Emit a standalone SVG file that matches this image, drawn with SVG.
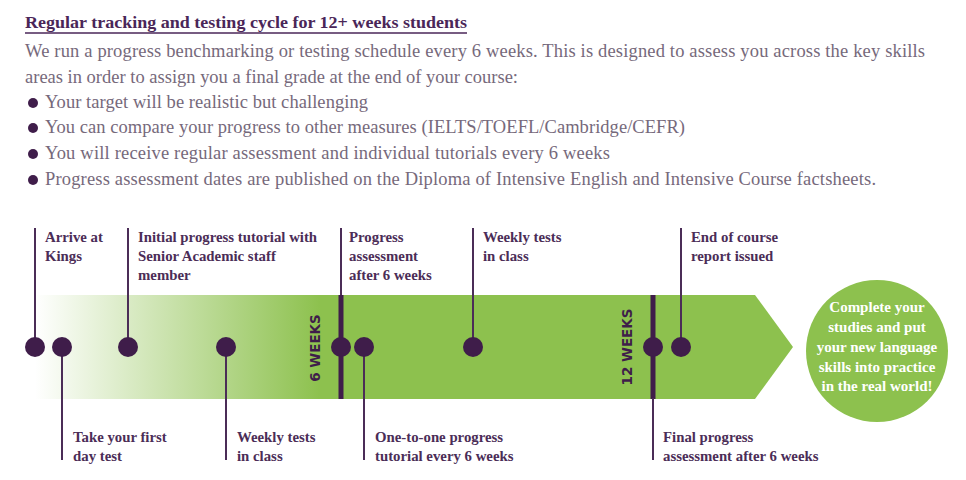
<svg xmlns="http://www.w3.org/2000/svg" width="966" height="480" viewBox="0 0 966 480">
<style>
.title{font-family:"Liberation Serif",serif;font-weight:bold;font-size:16.5px;fill:#4a2658}
.body{font-family:"Liberation Serif",serif;font-size:18.5px;fill:#76697b}
.lbl{font-family:"Liberation Serif",serif;font-weight:bold;font-size:14.8px;fill:#4b2d57}
.wk{font-family:"DejaVu Sans",sans-serif;font-weight:bold;font-size:13.5px;fill:#3f1d4a}
.ctext{font-family:"Liberation Serif",serif;font-weight:bold;font-size:15px;fill:#ffffff}
.thin{stroke:#4b2d57;stroke-width:2;fill:none}
.thick{stroke:#3f1d4a;stroke-width:5;fill:none}
.dot{fill:#3f1d4a}
.bul{fill:#3f1d4a}
</style>
<defs>
<linearGradient id="g" x1="35" y1="0" x2="320" y2="0" gradientUnits="userSpaceOnUse">
<stop offset="0" stop-color="#8dc14e" stop-opacity="0"/>
<stop offset="1" stop-color="#8dc14e" stop-opacity="1"/>
</linearGradient>
</defs>
<rect width="966" height="480" fill="#ffffff"/>
<g id="header">
<text class="title" x="25" y="28" textLength="442" lengthAdjust="spacingAndGlyphs">Regular tracking and testing cycle for 12+ weeks students</text>
<line x1="25" y1="33" x2="467" y2="33" stroke="#4a2658" stroke-width="1.5"/>
<text class="body" x="25" y="57" textLength="900" lengthAdjust="spacing">We run a progress benchmarking or testing schedule every 6 weeks. This is designed to assess you across the key skills</text>
<text class="body" x="25" y="83" textLength="493" lengthAdjust="spacing">areas in order to assign you a final grade at the end of your course:</text>
<circle class="bul" cx="33" cy="103" r="5"/>
<text class="body" x="45" y="108" textLength="323" lengthAdjust="spacing">Your target will be realistic but challenging</text>
<circle class="bul" cx="33" cy="128" r="5"/>
<text class="body" x="45" y="133" textLength="640" lengthAdjust="spacing">You can compare your progress to other measures (IELTS/TOEFL/Cambridge/CEFR)</text>
<circle class="bul" cx="33" cy="154" r="5"/>
<text class="body" x="45" y="159" textLength="565" lengthAdjust="spacing">You will receive regular assessment and individual tutorials every 6 weeks</text>
<circle class="bul" cx="33" cy="180" r="5"/>
<text class="body" x="45" y="185" textLength="831" lengthAdjust="spacing">Progress assessment dates are published on the Diploma of Intensive English and Intensive Course factsheets.</text>
</g>
<g id="band">
<rect x="35" y="295" width="300" height="104" fill="url(#g)"/>
<polygon points="334,295 755,295 793,347 755,399 334,399" fill="#8dc14e"/>
<text class="wk" transform="translate(320,348) rotate(-90)" text-anchor="middle">6 WEEKS</text>
<text class="wk" transform="translate(632,347) rotate(-90)" text-anchor="middle">12 WEEKS</text>
</g>
<g id="connectors">
<line class="thin" x1="35" y1="228" x2="35" y2="347"/>
<line class="thin" x1="62" y1="347" x2="62" y2="460"/>
<line class="thin" x1="128" y1="228" x2="128" y2="347"/>
<line class="thin" x1="226" y1="347" x2="226" y2="460"/>
<line class="thin" x1="341" y1="228" x2="341" y2="296"/>
<line class="thick" x1="341" y1="295" x2="341" y2="399"/>
<line class="thin" x1="364" y1="347" x2="364" y2="460"/>
<line class="thin" x1="473" y1="228" x2="473" y2="347"/>
<line class="thick" x1="653" y1="295" x2="653" y2="399"/>
<line class="thin" x1="653" y1="398" x2="653" y2="460"/>
<line class="thin" x1="681" y1="228" x2="681" y2="347"/>
</g>
<g id="n-arrive"><circle class="dot" cx="35" cy="347" r="10"/>
<text class="lbl" x="45" y="242">Arrive at</text><text class="lbl" x="45" y="261">Kings</text></g>
<g id="n-firsttest"><circle class="dot" cx="62" cy="347" r="10"/>
<text class="lbl" x="73" y="442">Take your first</text><text class="lbl" x="73" y="461">day test</text></g>
<g id="n-initial"><circle class="dot" cx="128" cy="347" r="10"/>
<text class="lbl" x="138" y="242">Initial progress tutorial with</text><text class="lbl" x="138" y="261">Senior Academic staff</text><text class="lbl" x="138" y="280">member</text></g>
<g id="n-weekly1"><circle class="dot" cx="226" cy="347" r="10"/>
<text class="lbl" x="237" y="442">Weekly tests</text><text class="lbl" x="237" y="461">in class</text></g>
<g id="n-progress6"><circle class="dot" cx="341" cy="347" r="10"/>
<text class="lbl" x="349" y="242">Progress</text><text class="lbl" x="349" y="261">assessment</text><text class="lbl" x="349" y="280">after 6 weeks</text></g>
<g id="n-onetoone"><circle class="dot" cx="364" cy="347" r="10"/>
<text class="lbl" x="375" y="442">One-to-one progress</text><text class="lbl" x="375" y="461">tutorial every 6 weeks</text></g>
<g id="n-weekly2"><circle class="dot" cx="473" cy="347" r="10"/>
<text class="lbl" x="483" y="242">Weekly tests</text><text class="lbl" x="483" y="261">in class</text></g>
<g id="n-final"><circle class="dot" cx="653" cy="347" r="10"/>
<text class="lbl" x="663" y="442">Final progress</text><text class="lbl" x="663" y="461">assessment after 6 weeks</text></g>
<g id="n-end"><circle class="dot" cx="681" cy="347" r="10"/>
<text class="lbl" x="691" y="242">End of course</text><text class="lbl" x="691" y="261">report issued</text></g>
<g id="n-complete"><circle cx="877" cy="351" r="71" fill="#8dc14e"/>
<text class="ctext" text-anchor="middle"><tspan x="877" y="312">Complete your</tspan><tspan x="877" y="332">studies and put</tspan><tspan x="877" y="352">your new language</tspan><tspan x="877" y="372">skills into practice</tspan><tspan x="877" y="391">in the real world!</tspan></text></g>
</svg>
